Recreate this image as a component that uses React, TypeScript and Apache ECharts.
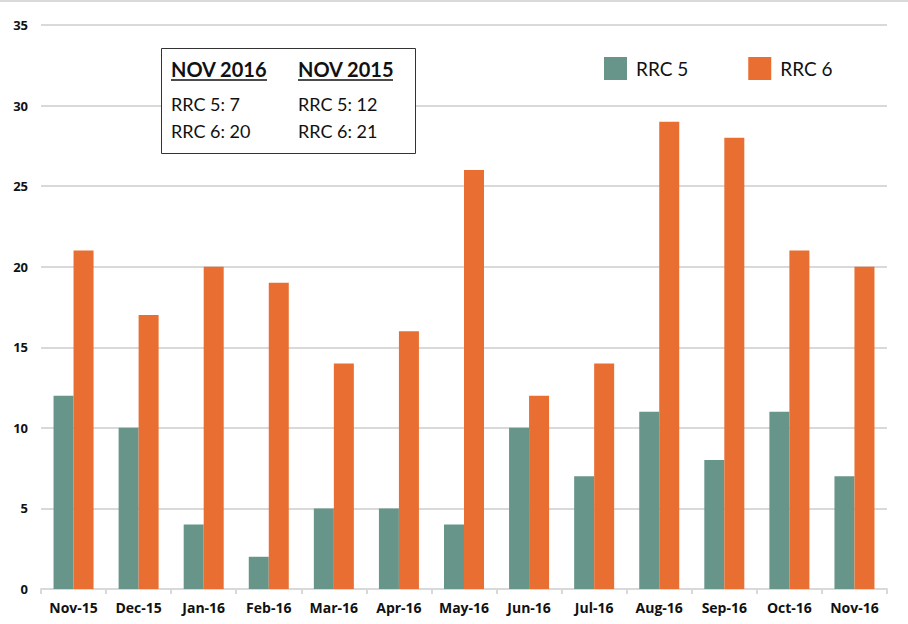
import React, { useEffect, useRef } from "react";
import * as echarts from "echarts";

const categories = ["Nov-15", "Dec-15", "Jan-16", "Feb-16", "Mar-16", "Apr-16", "May-16", "Jun-16", "Jul-16", "Aug-16", "Sep-16", "Oct-16", "Nov-16"];
const rrc5 = [12, 10, 4, 2, 5, 5, 4, 10, 7, 11, 8, 11, 7];
const rrc6 = [21, 17, 20, 19, 14, 16, 26, 12, 14, 29, 28, 21, 20];
const seriesNames = ["RRC 5", "RRC 6"];
const boxHeaders = ["NOV 2016", "NOV 2015"];
const boxLines2016 = ["RRC 5: 7", "RRC 6: 20"];
const boxLines2015 = ["RRC 5: 12", "RRC 6: 21"];

const FONT = "'Open Sans', 'Noto Sans', sans-serif";

export default function App() {
  const ref = useRef<HTMLDivElement>(null);
  useEffect(() => {
    if (!ref.current) return;
    const chart = echarts.init(ref.current, null, { renderer: "svg" });
    const textStyle = (x: number, y: number, text: string, bold: boolean) => ({
      type: "text",
      x,
      y,
      z: 101,
      style: {
        text,
        fontSize: bold ? 20 : 18,
        fontWeight: bold ? "bold" : "normal",
        fontFamily: "'Lato', 'Open Sans', sans-serif",
        fill: "#111",
        textVerticalAlign: "middle",
      },
    });
    chart.setOption({
      animation: false,
      textStyle: { fontFamily: FONT },
      grid: { left: 41, right: 21, top: 25, bottom: 35, containLabel: false },
      legend: {
        data: seriesNames,
        left: 599,
        top: 52,
        itemWidth: 23,
        itemHeight: 23,
        itemGap: 60,
        icon: "rect",
        textStyle: { fontSize: 19, color: "#111", fontFamily: "'Lato', sans-serif", padding: [0, 0, 0, 4] },
      },
      xAxis: {
        type: "category",
        data: categories,
        axisLine: { lineStyle: { color: "#d9d9d9", width: 2 } },
        axisTick: { show: true, length: 5, lineStyle: { color: "#d9d9d9", width: 2 } },
        axisLabel: { interval: 0, color: "#111", fontWeight: "bold", fontSize: 14, margin: 11, fontFamily: FONT },
      },
      yAxis: {
        type: "value",
        min: 0,
        max: 35,
        interval: 5,
        axisLine: { show: false },
        axisTick: { show: false },
        splitLine: { lineStyle: { color: "#d9d9d9", width: 2 } },
        axisLabel: { color: "#111", fontWeight: "bold", fontSize: 13, margin: 13, fontFamily: FONT },
      },
      series: [
        {
          name: seriesNames[0],
          type: "bar",
          data: rrc5,
          barWidth: 20,
          barGap: "0%",
          itemStyle: { color: "#67958a" },
        },
        {
          name: seriesNames[1],
          type: "bar",
          data: rrc6,
          barWidth: 20,
          barGap: "0%",
          itemStyle: { color: "#e86e31" },
        },
      ],
      graphic: [
        {
          type: "line",
          z: 100,
          shape: { x1: 0, y1: 1, x2: 908, y2: 1 },
          style: { stroke: "#d9d9d9", lineWidth: 2 },
        },
        {
          type: "rect",
          z: 100,
          shape: { x: 161.5, y: 48.5, width: 254, height: 105 },
          style: { fill: "#fff", stroke: "#333", lineWidth: 1 },
        },
        textStyle(171, 69, boxHeaders[0], true),
        textStyle(298, 69, boxHeaders[1], true),
        {
          type: "line",
          z: 101,
          shape: { x1: 171, y1: 80, x2: 267, y2: 80 },
          style: { stroke: "#111", lineWidth: 1.5 },
        },
        {
          type: "line",
          z: 101,
          shape: { x1: 298, y1: 80, x2: 393, y2: 80 },
          style: { stroke: "#111", lineWidth: 1.5 },
        },
        textStyle(171, 104, boxLines2016[0], false),
        textStyle(171, 131, boxLines2016[1], false),
        textStyle(298, 104, boxLines2015[0], false),
        textStyle(298, 131, boxLines2015[1], false),
      ],
    });
    return () => chart.dispose();
  }, []);
  return <div ref={ref} style={{ width: 908, height: 624, position: "absolute", left: 0, top: 0 }} />;
}
